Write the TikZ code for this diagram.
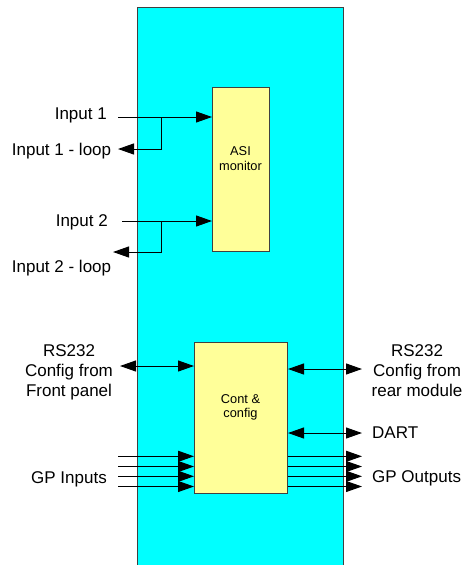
\documentclass[tikz,border=0pt]{standalone}
\usepackage{fontspec}
\setmainfont{Liberation Sans}
\usetikzlibrary{arrows.meta}
\definecolor{panelcol}{HTML}{00FFFF}
\definecolor{boxfill}{HTML}{FFFF99}
\definecolor{edgecol}{HTML}{404040}
\tikzset{
  lbl/.style={font=\fontsize{17}{20}\selectfont, inner sep=0pt},
  mlbl/.style={lbl, align=center},
  boxtxt/.style={font=\fontsize{12.8}{14.5}\selectfont, inner sep=0pt, align=center},
  blk/.style={draw=edgecol, fill=boxfill, line width=1pt, inner sep=0pt},
  sig/.style={line width=1pt, -{Triangle[length=16pt,width=11pt]}},
  bsig/.style={line width=1pt, {Triangle[length=16pt,width=11pt]}-{Triangle[length=16pt,width=11pt]}},
}
\begin{document}
\begin{tikzpicture}[x=1pt,y=-1pt]
\useasboundingbox (0,0) rectangle (464,565);
\fill[white] (0,0) rectangle (464,565);
% panel
\path[draw=edgecol, fill=panelcol, line width=1pt] (137,566) -- (137,7) -- (343,7) -- (343,566);
% blocks
\node[blk, anchor=north west, minimum width=57pt, minimum height=164pt] (asi) at (212,87) {};
\node[boxtxt] (asitxt) at (240.5,158.8) {ASI\\monitor};
\node[blk, anchor=north west, minimum width=93pt, minimum height=150.5pt] (cont) at (194,342) {};
\node[boxtxt] (conttxt) at (240.5,407.5) {Cont \&\\config};
% labels
\node[lbl, anchor=base east] (lin1) at (107,119) {Input 1};
\node[lbl, anchor=base west] (lloop1) at (11.7,155) {Input 1 - loop};
\node[lbl, anchor=base east] (lin2) at (108,226) {Input 2};
\node[lbl, anchor=base west] (lloop2) at (11.7,272) {Input 2 - loop};
\node[mlbl] (lrsl) at (69,372.4) {RS232\\Config from\\Front panel};
\node[mlbl] (lrsr) at (417,370.8) {RS232\\Config from\\rear module};
\node[lbl, anchor=base west] (ldart) at (372,438) {DART};
\node[lbl, anchor=base east] (lgpi) at (107,483) {GP Inputs};
\node[lbl, anchor=base west] (lgpo) at (372,482.5) {GP Outputs};
% coordinates
\coordinate (in1) at (118,117);
\coordinate (tap1) at (161,117);
\coordinate (loop1) at (118,149);
\coordinate (in2) at (122,221);
\coordinate (tap2) at (161,221);
\coordinate (loop2) at (113,252);
\coordinate (rsl) at (120,366);
\coordinate (rsr) at (362,369);
\coordinate (dart) at (362,433);
\foreach \i/\y in {1/456.3,2/466.5,3/476.3,4/486.5}{
  \coordinate (gpi\i) at (118,\y);
  \coordinate (gpo\i) at (362,\y);
}
% connectors
\draw[sig] (in1) -- (in1 -| asi.west);
\draw[sig] (tap1) |- (loop1);
\draw[sig] (in2) -- (in2 -| asi.west);
\draw[sig] (tap2) |- (loop2);
\draw[bsig] (rsl) -- (rsl -| cont.west);
\draw[bsig] (cont.east |- rsr) -- (rsr);
\draw[bsig] (cont.east |- dart) -- (dart);
\foreach \i in {1,2,3,4}{
  \draw[sig] (gpi\i) -- (gpi\i -| cont.west);
  \draw[sig] (cont.east |- gpo\i) -- (gpo\i);
}
\end{tikzpicture}
\end{document}
